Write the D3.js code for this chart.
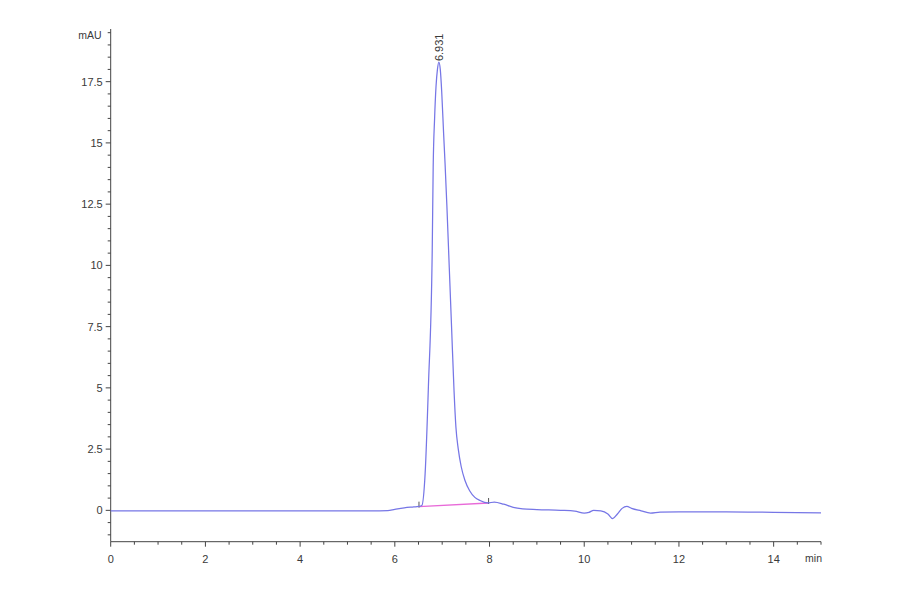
<!DOCTYPE html>
<html>
<head>
<meta charset="utf-8">
<script src="https://cdn.jsdelivr.net/npm/d3@7"></script>
<style>
  html, body { margin: 0; padding: 0; background: #fff; }
  svg { display: block; }
  text { font-family: "Liberation Sans", Arial, sans-serif; fill: #3a3a3a; }
</style>
</head>
<body>
<svg id="chart" width="900" height="594"></svg>
<script>
// ---- data ----
const times = [0, 1, 2, 3, 4, 5, 5.5, 5.85, 6.0, 6.2, 6.4, 6.5, 6.57,
  6.64, 6.71, 6.79, 6.81, 6.84, 6.87, 6.90, 6.93, 6.96, 6.99, 7.03, 7.06, 7.10, 7.15, 7.20,
  7.25, 7.29, 7.34, 7.40, 7.48, 7.58, 7.69, 7.80, 7.96, 8.1, 8.3, 8.5, 8.7, 9.0, 9.5, 9.8, 10.0, 10.1,
  10.2, 10.35, 10.5, 10.6, 10.7, 10.8, 10.9, 11.0, 11.2, 11.4, 11.6, 12, 13, 14, 15];
const signal = [-0.02, -0.02, -0.02, -0.02, -0.02, -0.02, -0.02, -0.01, 0.04, 0.1, 0.14, 0.16, 0.2,
  1.5, 5.1, 10.6, 14.0, 16.0, 17.3, 18.0, 18.3, 18.0, 17.1, 15.4, 14.2, 12.4, 9.9, 7.4,
  4.9, 3.4, 2.5, 1.8, 1.23, 0.8, 0.53, 0.4, 0.30, 0.34, 0.25, 0.12, 0.06, 0.03, 0.0, -0.03, -0.11, -0.08,
  0.0, -0.02, -0.15, -0.34, -0.15, 0.08, 0.16, 0.08, -0.02, -0.11, -0.07, -0.06, -0.06, -0.08, -0.1];
const baselineTimes = [6.51, 7.98];
const baselineValues = [0.15, 0.30];
const peakTime = [6.931];
const peakValue = [18.3];
const peakLabel = ["6.931"];
const xTicks = [0, 2, 4, 6, 8, 10, 12, 14];
const yTicks = [0, 2.5, 5, 7.5, 10, 12.5, 15, 17.5];
const xUnit = "min";
const yUnit = "mAU";

// ---- drawing ----
const svg = d3.select("#chart");
const x = d3.scaleLinear().domain([0, 15]).range([110.7, 821]);
const y = d3.scaleLinear().domain([-1.28, 19.65]).range([541.7, 29]);
const axisColor = "#444";

// x axis
const xAxisG = svg.append("g").attr("transform", `translate(0,${y(-1.28)})`);
xAxisG.append("line").attr("x1", x(0)).attr("x2", x(15)).attr("stroke", axisColor).attr("stroke-width", 1);
const xMinor = d3.range(0, 15.01, 0.5);
xAxisG.selectAll("line.minor").data(xMinor).join("line")
  .attr("class", "minor")
  .attr("x1", d => x(d)).attr("x2", d => x(d))
  .attr("y1", 0).attr("y2", d => (Math.abs(d % 2) < 1e-9 ? 5 : 3))
  .attr("stroke", axisColor).attr("stroke-width", 1);
xAxisG.selectAll("text.tl").data(xTicks).join("text")
  .attr("class", "tl")
  .attr("x", d => x(d)).attr("y", 21)
  .attr("text-anchor", "middle").attr("font-size", 11)
  .text(d => d);
xAxisG.append("text").attr("x", x(15) + 1).attr("y", 20)
  .attr("text-anchor", "end").attr("font-size", 10.5).text(xUnit);

// y axis
const yAxisG = svg.append("g").attr("transform", `translate(${x(0)},0)`);
yAxisG.append("line").attr("y1", y(-1.28)).attr("y2", y(19.65)).attr("stroke", axisColor).attr("stroke-width", 1);
const yMinor = d3.range(-1, 19.51, 0.5);
yAxisG.selectAll("line.minor").data(yMinor).join("line")
  .attr("class", "minor")
  .attr("y1", d => y(d)).attr("y2", d => y(d))
  .attr("x1", d => (Math.abs(d % 2.5) < 1e-9 ? -5 : -3)).attr("x2", 0)
  .attr("stroke", axisColor).attr("stroke-width", 1);
yAxisG.selectAll("text.tl").data(yTicks).join("text")
  .attr("class", "tl")
  .attr("x", -8).attr("y", d => y(d) + 4)
  .attr("text-anchor", "end").attr("font-size", 11)
  .text(d => d);
yAxisG.append("text").attr("x", -9).attr("y", 39)
  .attr("text-anchor", "end").attr("font-size", 10.5).text(yUnit);

// integration baseline
svg.append("path")
  .datum(baselineTimes.map((t, i) => [t, baselineValues[i]]))
  .attr("fill", "none").attr("stroke", "#e86ad8").attr("stroke-width", 1.3)
  .attr("d", d3.line().x(d => x(d[0])).y(d => y(d[1])));
svg.selectAll("line.bmark").data(baselineTimes.map((t, i) => [t, baselineValues[i]])).join("line")
  .attr("class", "bmark")
  .attr("x1", d => x(d[0])).attr("x2", d => x(d[0]))
  .attr("y1", d => y(d[1]) - 5).attr("y2", d => y(d[1]) + 1)
  .attr("stroke", "#555").attr("stroke-width", 1);

// signal trace
svg.append("path")
  .datum(times.map((t, i) => [t, signal[i]]))
  .attr("fill", "none").attr("stroke", "#7676e6").attr("stroke-width", 1.25)
  .attr("stroke-linejoin", "round")
  .attr("d", d3.line().x(d => x(d[0])).y(d => y(d[1])).curve(d3.curveMonotoneX));

// peak label
svg.selectAll("text.peak").data(peakTime).join("text")
  .attr("class", "peak")
  .attr("transform", (d, i) => `translate(${x(d) + 4},${y(peakValue[i]) - 1}) rotate(-90)`)
  .attr("text-anchor", "start").attr("font-size", 11)
  .text((d, i) => peakLabel[i]);
</script>
</body>
</html>
